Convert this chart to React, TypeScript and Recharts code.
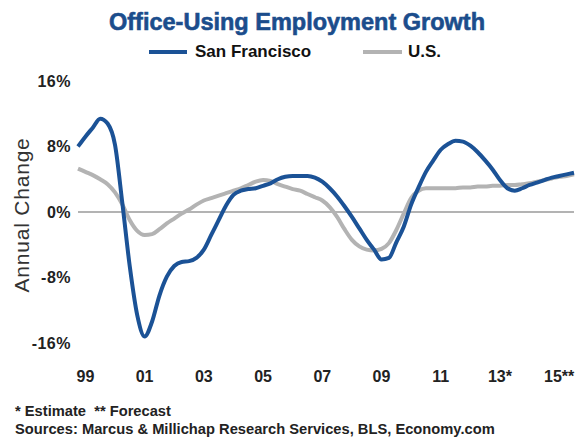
import React from 'react';
import { LineChart, Line, XAxis, YAxis, ReferenceLine } from 'recharts';

// quarterly annual change, 1999 Q1 .. 2015 Q4
const sfGrowth = [
  8.0, 9.2, 10.3, 11.4, 10.8, 8.2, 1.0, -6.7, -12.6, -15.2,
  -13.4, -10.2, -7.9, -6.6, -6.1, -6.0, -5.6, -4.6, -2.8, -1.0,
  0.8, 2.1, 2.6, 2.8, 2.9, 3.2, 3.5, 4.0, 4.3, 4.4,
  4.4, 4.4, 4.2, 3.7, 2.9, 1.9, 0.7, -0.6, -2.0, -3.4,
  -4.6, -5.8, -5.6, -3.7, -1.8, 0.9, 3.0, 4.9, 6.3, 7.6,
  8.3, 8.7, 8.6, 8.1, 7.3, 6.3, 5.2, 3.9, 2.9, 2.6,
  2.9, 3.3, 3.6, 3.9, 4.2, 4.4, 4.6, 4.8,
];

const usGrowth = [
  5.3, 4.9, 4.5, 4.0, 3.4, 2.4, 0.9, -1.0, -2.3, -2.8,
  -2.7, -2.1, -1.4, -0.8, -0.2, 0.3, 0.9, 1.4, 1.7, 2.0,
  2.3, 2.6, 2.9, 3.3, 3.7, 3.9, 3.8, 3.4, 3.1, 2.8,
  2.6, 2.2, 1.8, 1.4, 0.6, -0.6, -2.1, -3.4, -4.2, -4.6,
  -4.7, -4.5, -3.8, -2.2, -0.2, 1.7, 2.6, 2.9, 2.9, 2.9,
  2.9, 2.9, 3.0, 3.0, 3.1, 3.1, 3.2, 3.2, 3.3, 3.3,
  3.4, 3.5, 3.7, 3.9, 4.1, 4.3, 4.4, 4.6,
];

const xTickLabels = ['99', '01', '03', '05', '07', '09', '11', '13*', '15**'];
const yTicks = [-16, -8, 0, 8, 16];

const data = sfGrowth.map((sf, q) => ({ q, sf, us: usGrowth[q] }));
// labels sit under the 2nd quarter of every other year
const xTicks = xTickLabels.map((_, i) => 1 + i * 8);

const FONT = '"Liberation Sans", Arial, sans-serif';
const BLUE = '#1b5296';
const GRAY = '#b3b3b3';

export default function App() {
  return (
    <div style={{ position: 'absolute', left: 0, top: 0, width: 580, height: 448, background: '#fff', fontFamily: FONT }}>
      <div style={{ position: 'absolute', left: 0, top: 7, width: 594, textAlign: 'center', fontSize: 23.5, fontWeight: 'bold', color: '#1b4d8c', lineHeight: '30px', WebkitTextStroke: '0.6px #1b4d8c' }}>
        Office-Using Employment Growth
      </div>
      <div style={{ position: 'absolute', left: 149, top: 50, width: 38, height: 4, background: BLUE }} />
      <div style={{ position: 'absolute', left: 195, top: 42, fontSize: 17, fontWeight: 'bold', lineHeight: '20px', color: '#111' }}>San Francisco</div>
      <div style={{ position: 'absolute', left: 363, top: 50, width: 39, height: 4, background: GRAY }} />
      <div style={{ position: 'absolute', left: 408, top: 42, fontSize: 17, fontWeight: 'bold', lineHeight: '20px', color: '#111' }}>U.S.</div>

      <div style={{ position: 'absolute', left: 22, top: 215, width: 0, height: 0 }}>
        <div style={{ position: 'absolute', transform: 'translate(-50%, -50%) rotate(-90deg)', whiteSpace: 'nowrap', fontSize: 21, color: '#333', letterSpacing: 0.8 }}>
          Annual Change
        </div>
      </div>

      <LineChart width={580} height={448} data={data} margin={{ top: 81, right: 6, bottom: 75, left: 18 }}>
        <XAxis
          dataKey="q"
          type="number"
          domain={[0, sfGrowth.length - 1]}
          ticks={xTicks}
          tickFormatter={(v: number) => xTickLabels[(v - 1) / 8]}
          axisLine={false}
          tickLine={false}
          tickSize={0}
          tickMargin={28}
          height={30}
          interval={0}
          tick={{ fill: '#222', fontSize: 16, fontWeight: 'bold', fontFamily: FONT }}
        />
        <YAxis
          type="number"
          domain={[-16, 16]}
          ticks={yTicks}
          tickFormatter={(v: number) => `${v}%`}
          axisLine={false}
          tickLine={false}
          tickSize={0}
          tickMargin={7}
          width={60}
          interval={0}
          tick={{ fill: '#222', fontSize: 16, fontWeight: 'bold', fontFamily: FONT, letterSpacing: 0.5 }}
        />
        <ReferenceLine y={0} stroke={GRAY} strokeWidth={2} />
        <Line type="monotone" dataKey="us" stroke={GRAY} strokeWidth={4} dot={false} isAnimationActive={false} />
        <Line type="monotone" dataKey="sf" stroke={BLUE} strokeWidth={4} dot={false} isAnimationActive={false} />
      </LineChart>

      <div style={{ position: 'absolute', left: 15, top: 402, fontSize: 14.7, fontWeight: 'bold', lineHeight: '18px', color: '#222' }}>
        <div>* Estimate &nbsp;** Forecast</div>
        <div>Sources: Marcus &amp; Millichap Research Services, BLS, Economy.com</div>
      </div>
    </div>
  );
}
